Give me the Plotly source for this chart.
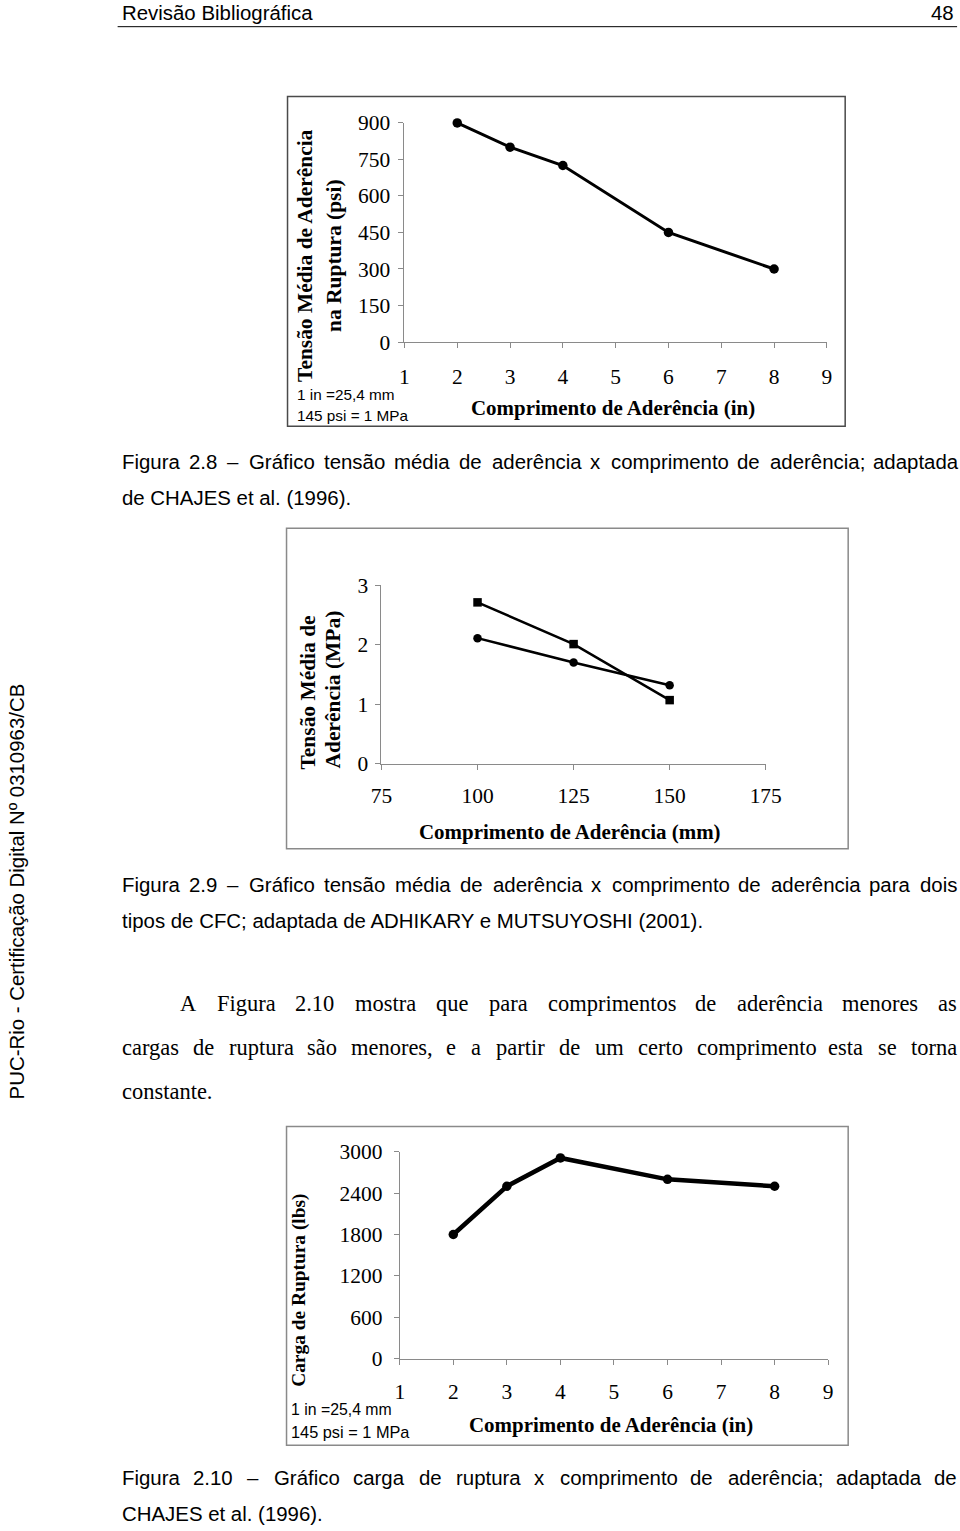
import unicodedata
import plotly.graph_objects as go

# ---------------- data ----------------
fig1_x = [2, 3, 4, 6, 8]
fig1_y = [900, 800, 725, 450, 300]
fig1_yticks = [0, 150, 300, 450, 600, 750, 900]
fig1_xticks = [1, 2, 3, 4, 5, 6, 7, 8, 9]

fig2_x = [100, 125, 150]
fig2_sq = [2.71, 2.01, 1.07]
fig2_ci = [2.11, 1.70, 1.32]
fig2_yticks = [0, 1, 2, 3]
fig2_xticks = [75, 100, 125, 150, 175]

fig3_x = [2, 3, 4, 6, 8]
fig3_y = [1800, 2500, 2910, 2600, 2500]
fig3_yticks = [0, 600, 1200, 1800, 2400, 3000]
fig3_xticks = [1, 2, 3, 4, 5, 6, 7, 8, 9]

# page geometry (page coordinates -> figure coordinates)
OX, SX = 10.3, 0.973
OY, SY = 10.3, 0.9855
W, H = 978, 1543
FS = 1 / 0.979          # font scale
def fxp(x): return (x - OX) / SX
def px(x): return fxp(x) / W
def py(y): return 1 - ((y - OY) / SY) / H
def f(s): return s * FS

SERIF = "Liberation Serif, Times New Roman, serif"
SANS = "Liberation Sans, Arial, sans-serif"

# ---------------- width tables (1/1000 em) ----------------
ARIAL = dict(zip("abcdefghijklmnopqrstuvwxyz",
                 [556,556,500,556,556,278,556,556,222,222,500,222,833,556,556,556,556,333,500,278,556,500,722,500,500,500]))
ARIAL.update(dict(zip("ABCDEFGHIJKLMNOPQRSTUVWXYZ",
                      [667,667,722,722,667,611,778,722,278,500,667,556,833,722,778,667,778,722,667,611,722,667,944,667,667,611])))
ARIAL.update({d: 556 for d in "0123456789"})
ARIAL.update({".": 278, ",": 278, ";": 278, ":": 278, "(": 333, ")": 333, "–": 556, "-": 333})
TIMES = dict(zip("abcdefghijklmnopqrstuvwxyz",
                 [444,500,444,500,444,333,500,500,278,278,500,278,778,500,500,500,500,333,389,278,500,500,722,500,500,444]))
TIMES.update(dict(zip("ABCDEFGHIJKLMNOPQRSTUVWXYZ",
                      [722,667,667,722,611,556,722,722,333,389,722,611,889,722,722,556,722,667,556,611,722,722,944,722,722,611])))
TIMES.update({d: 500 for d in "0123456789"})
TIMES.update({".": 250, ",": 250, ";": 278, ":": 278, "(": 333, ")": 333})

def wwidth(word, table, size):
    tot = 0
    for ch in word:
        base = unicodedata.normalize("NFD", ch)[0]
        tot += table.get(ch, table.get(base, 500))
    return tot * size / 1000

annotations = []

def text_fig(s, xf, y, size, family, xanchor="left", angle=0, bold=False):
    if bold:
        s = "<b>" + s + "</b>"
    annotations.append(dict(text=s, x=xf / W, y=py(y), xref="paper", yref="paper",
                            showarrow=False, xanchor=xanchor, yanchor="middle",
                            textangle=angle, borderpad=0,
                            font=dict(family=family, size=f(size), color="black")))

def text(s, x, y, size, family, xanchor="left", angle=0, bold=False):
    text_fig(s, fxp(x), y, size, family, xanchor, angle, bold)

def justify(line, x0, x1, y, size, family, table):
    words = line.split()
    a, b = fxp(x0), fxp(x1)
    widths = [wwidth(w, table, f(size)) for w in words]
    gap = (b - a - sum(widths)) / (len(words) - 1)
    x = a
    for w, wd in zip(words, widths):
        text_fig(w, x, y, size, family)
        x += wd + gap

# ---------------- page text ----------------
text("Revisão Bibliográfica", 120, 12, 20, SANS)
text("48", 955, 12, 20, SANS, xanchor="right")
text("PUC-Rio - Certificação Digital Nº 0310963/CB", 16, 892, 20, SANS, xanchor="center", angle=-90)

CAP = 20
justify("Figura 2.8 – Gráfico tensão média de aderência x comprimento de aderência; adaptada",
        120, 955, 462, CAP, SANS, ARIAL)
text("de CHAJES et al. (1996).", 120, 498, CAP, SANS)
justify("Figura 2.9 – Gráfico tensão média de aderência x comprimento de aderência para dois",
        120, 955, 885, CAP, SANS, ARIAL)
text("tipos de CFC; adaptada de ADHIKARY e MUTSUYOSHI (2001).", 120, 921, CAP, SANS)
PAR = 22
justify("A Figura 2.10 mostra que para comprimentos de aderência menores as",
        178, 955, 1004, PAR, SERIF, TIMES)
justify("cargas de ruptura são menores, e a partir de um certo comprimento esta se torna",
        120, 955, 1048, PAR, SERIF, TIMES)
text("constante.", 120, 1092, PAR, SERIF)
justify("Figura 2.10 – Gráfico carga de ruptura x comprimento de aderência; adaptada de",
        120, 955, 1479, CAP, SANS, ARIAL)
text("CHAJES et al. (1996).", 120, 1515, CAP, SANS)

# ---------------- chart titles ----------------
TT = 20.5
text("Tensão Média de Aderência", 305, 255, 21, SERIF, "center", -90, True)
text("na Ruptura (psi)", 334, 255, 21, SERIF, "center", -90, True)
text("Comprimento de Aderência (in)", 613, 408, TT, SERIF, "center", 0, True)
text("1 in =25,4 mm", 295, 394, 15, SANS)
text("145 psi = 1 MPa", 295, 415, 15, SANS)

text("Tensão Média de", 307, 693, 21, SERIF, "center", -90, True)
text("Aderência (MPa)", 332, 689, 21, SERIF, "center", -90, True)
text("Comprimento de Aderência (mm)", 570, 832, TT, SERIF, "center", 0, True)

text("Carga de Ruptura (lbs)", 299, 1291, 19, SERIF, "center", -90, True)
text("Comprimento de Aderência (in)", 611, 1426, TT, SERIF, "center", 0, True)
text("1 in =25,4 mm", 289, 1410, 15.5, SANS)
text("145 psi = 1 MPa", 289, 1433, 16, SANS)

# ---------------- traces ----------------
fig = go.Figure()
fig.add_trace(go.Scatter(x=fig1_x, y=fig1_y, mode="lines+markers", xaxis="x", yaxis="y",
                         line=dict(color="black", width=3), marker=dict(symbol="circle", size=9.5, color="black"),
                         cliponaxis=False, showlegend=False))
fig.add_trace(go.Scatter(x=fig2_x, y=fig2_sq, mode="lines+markers", xaxis="x2", yaxis="y2",
                         line=dict(color="black", width=2.5), marker=dict(symbol="square", size=8.5, color="black"),
                         cliponaxis=False, showlegend=False))
fig.add_trace(go.Scatter(x=fig2_x, y=fig2_ci, mode="lines+markers", xaxis="x2", yaxis="y2",
                         line=dict(color="black", width=2.5), marker=dict(symbol="circle", size=8.5, color="black"),
                         cliponaxis=False, showlegend=False))
fig.add_trace(go.Scatter(x=fig3_x, y=fig3_y, mode="lines+markers", xaxis="x3", yaxis="y3",
                         line=dict(color="black", width=4.5), marker=dict(symbol="circle", size=9.5, color="black"),
                         cliponaxis=False, showlegend=False))

AX = dict(showline=True, linecolor="#8a8a8a", linewidth=1, ticks="outside", ticklen=5,
          tickcolor="#8a8a8a", tickwidth=1, showgrid=False, zeroline=False,
          tickfont=dict(family=SERIF, size=f(21), color="black"))

def xaxis(dom, rng, vals, anchor, standoff):
    d = dict(AX); d.update(domain=[px(dom[0]), px(dom[1])], range=rng, tickvals=vals,
                           anchor=anchor, ticklabelstandoff=standoff)
    return d

def yaxis(dom, rng, vals, anchor, standoff):
    d = dict(AX); d.update(domain=[py(dom[1]), py(dom[0])], range=rng, tickvals=vals,
                           anchor=anchor, ticklabelstandoff=standoff)
    return d

def rect(x0, y0, x1, y1, color, width):
    return dict(type="rect", xref="paper", yref="paper", x0=px(x0), x1=px(x1), y0=py(y0), y1=py(y1),
                line=dict(color=color, width=width))

fig.update_layout(
    width=W, height=H, margin=dict(l=0, r=0, t=0, b=0),
    paper_bgcolor="white", plot_bgcolor="rgba(0,0,0,0)",
    xaxis=xaxis((404, 826.7), [1, 9], fig1_xticks, "y", 10),
    yaxis=yaxis((122.3, 341.7), [0, 900], fig1_yticks, "x", 4),
    xaxis2=xaxis((381, 765.5), [75, 175], fig2_xticks, "y2", 7),
    yaxis2=yaxis((585, 764), [0, 3], fig2_yticks, "x2", 3),
    xaxis3=xaxis((399.3, 828), [1, 9], fig3_xticks, "y3", 9),
    yaxis3=yaxis((1152.3, 1359.3), [0, 3000], fig3_yticks, "x3", 7),
    annotations=annotations,
    shapes=[
        dict(type="line", xref="paper", yref="paper", x0=px(117), x1=px(957), y0=py(26), y1=py(26),
             line=dict(color="black", width=1)),
        rect(287, 96, 845, 426, "#4a4a4a", 1.5),
        rect(286, 528, 848, 849, "#8a8a8a", 1.5),
        rect(286, 1127, 848, 1446, "#8a8a8a", 1.5),
    ],
)

fig.write_html("out.html")
